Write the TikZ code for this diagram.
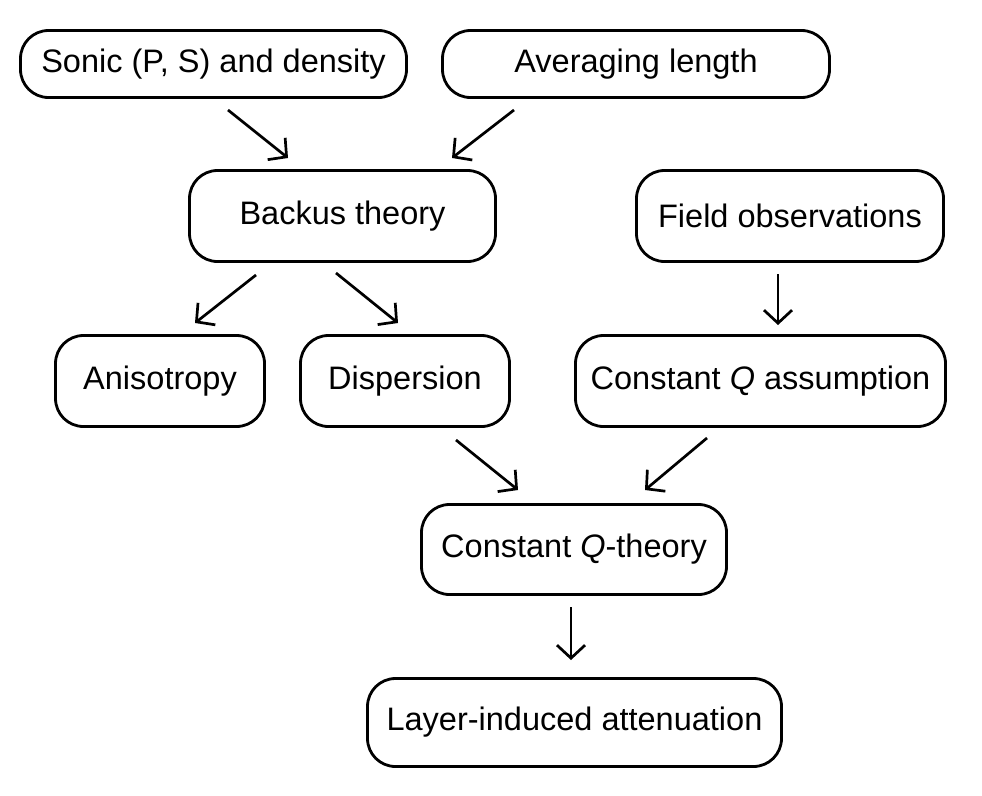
\documentclass[tikz,border=0pt]{standalone}
\usepackage{fontspec}
\setmainfont{Liberation Sans}
\usetikzlibrary{arrows.meta}
\tikzset{
  box/.style={draw, line width=2.8pt, rounded corners=28pt, inner sep=0pt, align=center,
    font=\fontsize{32.5}{38}\selectfont},
  arr/.style={line width=2.7pt, -{Straight Barb[length=13pt,width=28pt,line width=2.7pt]}}
}
\begin{document}
\begin{tikzpicture}[x=1pt,y=-1pt]
\useasboundingbox (0,0) rectangle (982,795);
\node[box, minimum width=386pt, minimum height=67pt] (sonic) at (213.5,64) {Sonic (P, S) and density};
\node[box, minimum width=387pt, minimum height=67pt] (avg) at (636,64) {Averaging length};
\node[box, minimum width=306pt, minimum height=91pt] (backus) at (342.5,216) {Backus theory};
\node[box, minimum width=307pt, minimum height=91pt] (field) at (790,216) {Field observations};
\node[box, minimum width=209pt, minimum height=91pt] (aniso) at (160,381) {Anisotropy};
\node[box, minimum width=209pt, minimum height=91pt] (disp) at (405,381) {Dispersion};
\node[box, minimum width=370pt, minimum height=91pt] (cqa) at (760.5,381) {Constant \textit{Q} assumption};
\node[box, minimum width=305pt, minimum height=90pt] (cqt) at (574,549.5) {Constant \textit{Q}-theory};
\node[box, minimum width=414pt, minimum height=88pt] (layer) at (574.5,722.5) {Layer-induced attenuation};

\coordinate (a1s) at (228,110); \coordinate (a1e) at (288,158);
\coordinate (a2s) at (514,110); \coordinate (a2e) at (452,158);
\coordinate (a3s) at (256,275); \coordinate (a3e) at (195,323);
\coordinate (a4s) at (336,273); \coordinate (a4e) at (398,323);
\coordinate (a5s) at (778,274); \coordinate (a5e) at (778,325);
\coordinate (a6s) at (456,440); \coordinate (a6e) at (518,490);
\coordinate (a7s) at (707,438); \coordinate (a7e) at (645,490);
\coordinate (a8s) at (571,607); \coordinate (a8e) at (571,660);

\draw[arr] (a1s) -- (a1e);
\draw[arr] (a2s) -- (a2e);
\draw[arr] (a3s) -- (a3e);
\draw[arr] (a4s) -- (a4e);
\draw[arr] (a5s) -- (a5e);
\draw[arr] (a6s) -- (a6e);
\draw[arr] (a7s) -- (a7e);
\draw[arr] (a8s) -- (a8e);
\end{tikzpicture}
\end{document}
